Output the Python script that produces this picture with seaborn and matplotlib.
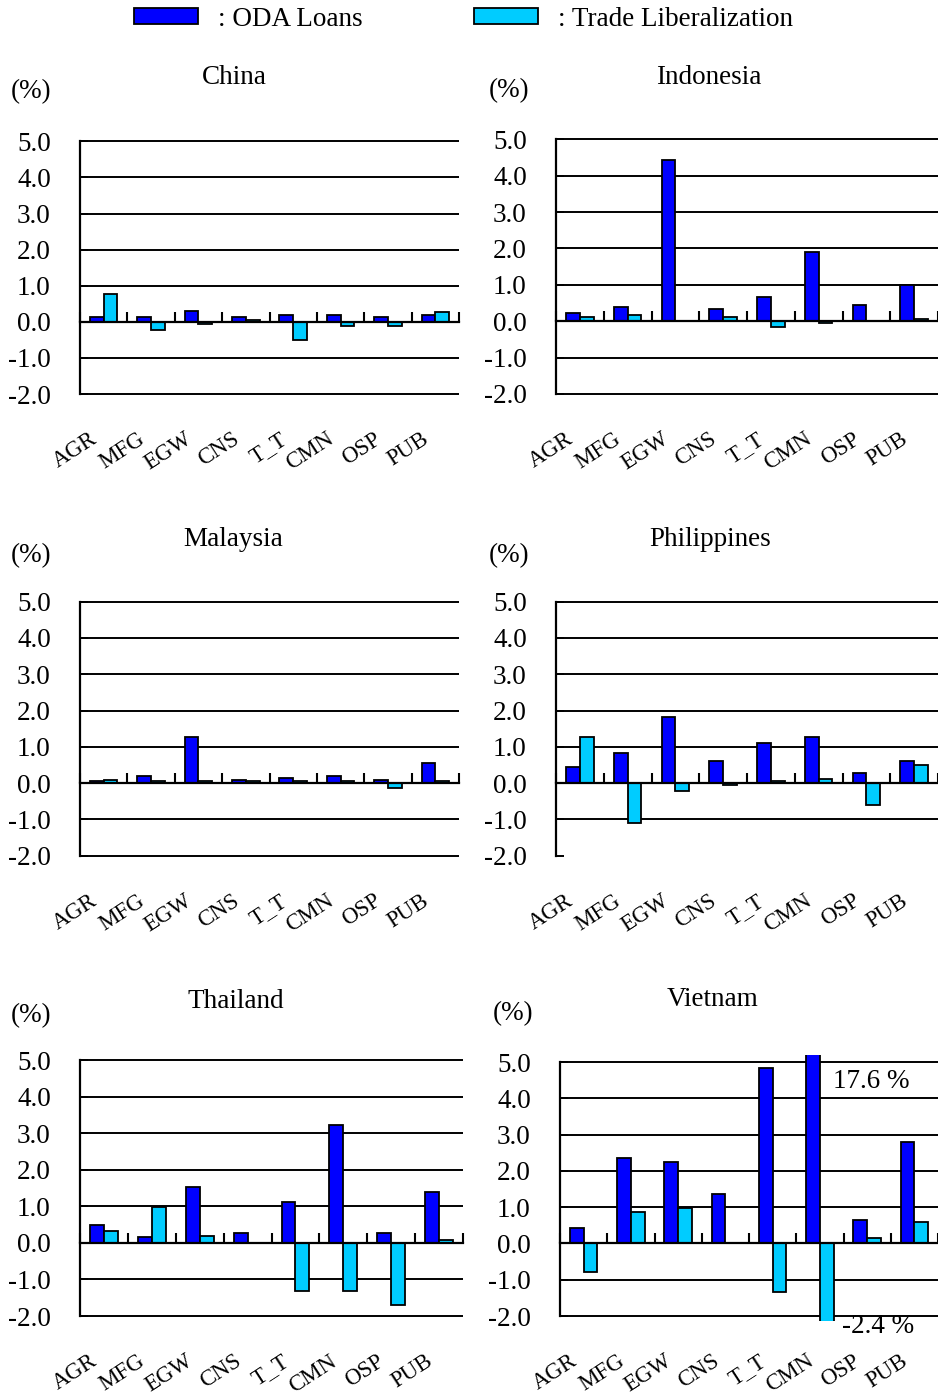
import numpy as np
import pandas as pd
import seaborn as sns
import matplotlib
matplotlib.use('agg')
import matplotlib.pyplot as plt
from matplotlib.patches import Patch

sns.set_theme(style='white')
plt.rcParams['font.family'] = ['Liberation Serif', 'DejaVu Serif']
plt.rcParams['text.color'] = 'black'
plt.rcParams['xtick.color'] = 'black'
plt.rcParams['ytick.color'] = 'black'

# sectors on the x axis
sectors = ['AGR', 'MFG', 'EGW', 'CNS', 'T_T', 'CMN', 'OSP', 'PUB']

# values in %
oda_china = [0.12, 0.12, 0.29, 0.12, 0.18, 0.18, 0.12, 0.18]
trade_china = [0.78, -0.22, -0.05, 0.05, -0.50, -0.11, -0.11, 0.28]

oda_indonesia = [0.23, 0.39, 4.43, 0.33, 0.67, 1.89, 0.44, 1.00]
trade_indonesia = [0.11, 0.17, 0.01, 0.11, -0.17, -0.05, 0.01, 0.05]

oda_malaysia = [0.05, 0.21, 1.28, 0.10, 0.15, 0.21, 0.10, 0.55]
trade_malaysia = [0.10, 0.05, 0.05, 0.05, 0.05, 0.05, -0.13, 0.05]

oda_philippines = [0.45, 0.83, 1.83, 0.61, 1.11, 1.28, 0.28, 0.61]
trade_philippines = [1.28, -1.09, -0.21, -0.05, 0.06, 0.11, -0.60, 0.50]

oda_thailand = [0.48, 0.15, 1.52, 0.26, 1.13, 3.21, 0.26, 1.40]
trade_thailand = [0.32, 0.98, 0.20, 0.00, -1.32, -1.32, -1.70, 0.09]

oda_vietnam = [0.42, 2.36, 2.24, 1.36, 4.83, 17.6, 0.64, 2.80]
trade_vietnam = [-0.78, 0.86, 0.98, 0.00, -1.33, -2.4, 0.16, 0.59]

series = ['ODA Loans', 'Trade Liberalization']
colors = ['#0000FF', '#00CCFF']

W, H = 938, 1398
fig = plt.figure(figsize=(W / 100, H / 100), dpi=100)
FS = 19.5

YLO, YHI = -2.15, 5.2

# (name, oda, trade, x0, x1, y at 5.0, y at -2.0, title xy, (%) xy) in pixels
panels = [
    ('China', oda_china, trade_china, 80, 459, 141.3, 394, (234, 78), (31, 92)),
    ('Indonesia', oda_indonesia, trade_indonesia, 556, 938, 139.3, 394, (709, 78), (509, 91)),
    ('Malaysia', oda_malaysia, trade_malaysia, 80, 459, 601.7, 855.7, (233, 540), (31, 556)),
    ('Philippines', oda_philippines, trade_philippines, 556, 938, 601.7, 855.7, (710, 540), (509, 556)),
    ('Thailand', oda_thailand, trade_thailand, 80, 463, 1060, 1316, (236, 1001), (31, 1016)),
    ('Vietnam', oda_vietnam, trade_vietnam, 560, 938, 1062, 1316, (713, 999), (513, 1014)),
]

for name, oda, trade, x0, x1, y5, ym2, txy, pxy in panels:
    ppu = (ym2 - y5) / 7.0
    top = y5 - (YHI - 5) * ppu
    bot = ym2 + (-2 - YLO) * ppu
    ax = fig.add_axes([x0 / W, 1 - bot / H, (x1 - x0) / W, (bot - top) / H])

    df = pd.DataFrame({
        'sector': sectors * 2,
        'value': oda + trade,
        'series': [series[0]] * len(sectors) + [series[1]] * len(sectors),
    })
    sns.barplot(data=df, x='sector', y='value', hue='series', order=sectors,
                hue_order=series, palette=colors, width=0.58, saturation=1,
                edgecolor='black', linewidth=1.3, legend=False, ax=ax)

    ax.set_ylim(YLO, YHI)
    ax.set_xlim(-0.5, 7.5)
    ax.set_xlabel('')
    ax.set_ylabel('')
    ax.set_yticks(np.arange(-2, 6, 1))
    ax.set_yticklabels([f'{v:.1f}' for v in np.arange(-2, 6, 1)], fontsize=FS)
    ax.yaxis.grid(True, color='black', linewidth=1.4)
    ax.set_axisbelow(True)
    if name == 'Philippines':
        ax.get_ygridlines()[0].set_visible(False)
    ax.tick_params(axis='y', direction='in', length=6, width=1.4, color='black',
                   pad=21, left=True)

    for s in ['top', 'right']:
        ax.spines[s].set_visible(False)
    ax.spines['left'].set_bounds(-2, 5)
    ax.spines['left'].set_color('black')
    ax.spines['left'].set_linewidth(1.6)
    ax.spines['bottom'].set_position(('data', 0))
    ax.spines['bottom'].set_color('black')
    ax.spines['bottom'].set_linewidth(1.6)
    ax.set_xticks(np.arange(-0.5, 8, 1))
    ax.tick_params(axis='x', direction='in', length=7, width=1.5, color='black',
                   labelbottom=False, bottom=True)

    for i, lab in enumerate(sectors):
        ax.text(i - 0.3, -2.95, lab, rotation=33, ha='right', va='top',
                rotation_mode='anchor', fontsize=16.5, clip_on=False)

    fig.text(txy[0] / W, 1 - txy[1] / H, name, ha='center', va='center', fontsize=FS)
    fig.text(pxy[0] / W, 1 - pxy[1] / H, '(%)', ha='center', va='center', fontsize=FS)

    if name == 'Vietnam':
        ax.text(5.28, 4.45, '17.6 %', ha='left', va='center', fontsize=FS)
        ax.text(5.47, -2.28, '-2.4 %', ha='left', va='center', fontsize=FS,
                clip_on=False)

handles = [Patch(facecolor=c, edgecolor='black', linewidth=1.3) for c in colors]
fig.legend(handles, [': ' + s for s in series], loc='center left',
           bbox_to_anchor=(134 / W, 1 - 19 / H), ncol=2, frameon=False,
           fontsize=FS, borderpad=0, borderaxespad=0, handlelength=2.37,
           handleheight=0.52, handletextpad=0.74, columnspacing=4.1)

fig.savefig('out.png', dpi=100)
plt.close(fig)
